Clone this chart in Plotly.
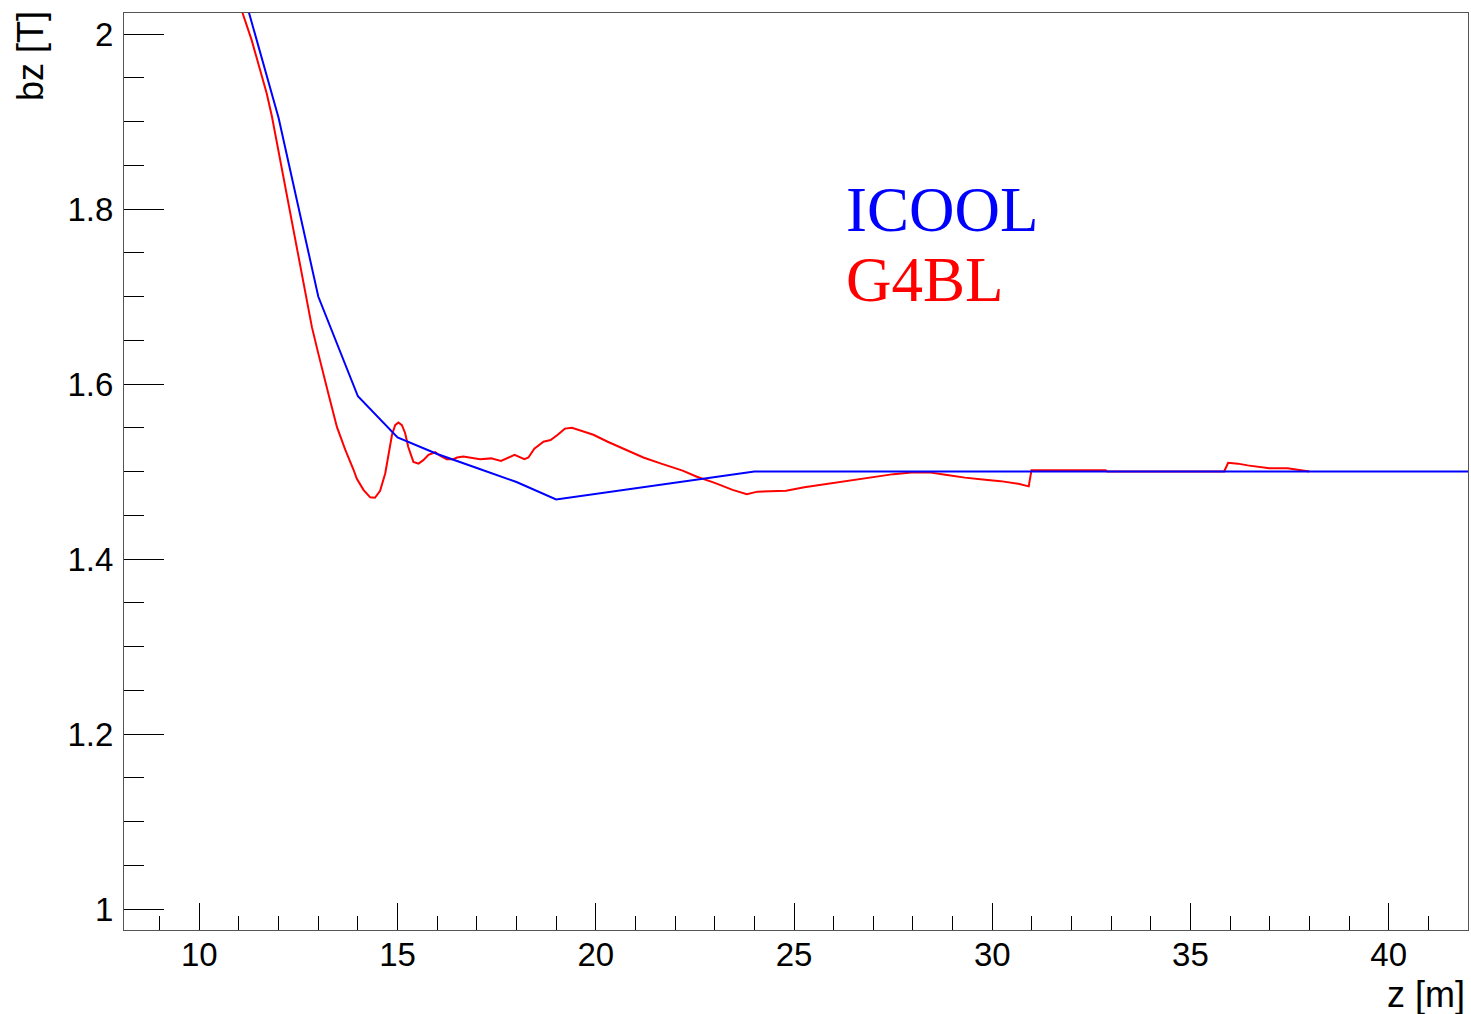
import plotly.graph_objects as go

# ICOOL (blue) field profile
icool_z = [11.0, 12.0, 13.0, 14.0, 15.0, 16.0, 17.0, 18.0, 19.0, 24.0, 42.0]
icool_bz = [2.065, 1.904, 1.700, 1.586, 1.539, 1.520, 1.504, 1.488, 1.468, 1.500, 1.500]

# G4BL (red) field profile
g4bl_z = [10.8, 11.09, 11.32, 11.53, 11.70, 11.83, 12.04, 12.16, 12.33, 12.54, 12.67,
          12.84, 13.00, 13.15, 13.26, 13.47, 13.68, 13.89, 13.97, 14.14, 14.31,
          14.43, 14.56, 14.69, 14.77, 14.86, 14.94, 15.02, 15.11, 15.19, 15.27,
          15.40, 15.53, 15.65, 15.78, 15.95, 16.07, 16.24, 16.41, 16.50, 16.66,
          16.91, 17.08, 17.36, 17.61, 17.95, 18.20, 18.30, 18.45, 18.68, 18.86,
          19.04, 19.22, 19.40, 19.53, 19.94, 20.30, 20.84, 21.20, 21.65, 22.19,
          22.55, 23.00, 23.45, 23.81, 24.08, 24.80, 25.26, 26.16, 27.06, 27.51,
          27.96, 28.41, 28.86, 29.31, 29.76, 30.21, 30.66, 30.92, 30.99, 32.86,
          32.90, 35.85, 35.95, 36.20, 36.44, 36.69, 36.99, 37.45, 37.95, 38.0]
g4bl_bz = [2.070, 2.024, 1.993, 1.959, 1.932, 1.906, 1.856, 1.825, 1.784, 1.738, 1.704,
           1.665, 1.635, 1.607, 1.588, 1.551, 1.525, 1.502, 1.492, 1.479, 1.4705,
           1.470, 1.478, 1.498, 1.517, 1.542, 1.553, 1.556, 1.553, 1.544, 1.528,
           1.511, 1.509, 1.513, 1.519, 1.522, 1.518, 1.514, 1.514, 1.516, 1.517,
           1.515, 1.514, 1.515, 1.512, 1.519, 1.514, 1.516, 1.526, 1.534, 1.536,
           1.542, 1.549, 1.550, 1.548, 1.542, 1.534, 1.523, 1.516, 1.509, 1.501,
           1.494, 1.487, 1.479, 1.474, 1.477, 1.478, 1.482, 1.488, 1.494, 1.497,
           1.499, 1.499, 1.496, 1.493, 1.491, 1.489, 1.486, 1.483, 1.5015, 1.5015,
           1.500, 1.500, 1.510, 1.509, 1.507, 1.5055, 1.5036, 1.5036, 1.501, 1.500]

x_range = [8.1, 42.0]
y_range = [0.976, 2.024]

fig = go.Figure()
fig.add_trace(go.Scatter(x=g4bl_z, y=g4bl_bz, mode="lines",
                         line=dict(color="#ff0000", width=2), name="G4BL",
                         showlegend=False))
fig.add_trace(go.Scatter(x=icool_z, y=icool_bz, mode="lines",
                         line=dict(color="#0000ff", width=2), name="ICOOL",
                         showlegend=False))

sans = "Liberation Sans, Arial, sans-serif"
serif = "Liberation Serif, Times New Roman, serif"
tickfont = dict(family=sans, size=33, color="black")

W, H = 1471, 1014
ML, MR, MT, MB = 124, 3, 13, 84
PW, PH = W - ML - MR, H - MT - MB

def px_x(p):  # page pixel -> paper x
    return (p - ML) / PW

def px_y(p):  # page pixel -> paper y
    return (H - MB - p) / PH

fig.update_layout(
    width=W, height=H,
    margin=dict(l=ML, r=MR, t=MT, b=MB, pad=0),
    paper_bgcolor="white", plot_bgcolor="white",
    font=dict(family=sans, color="black"),
    xaxis=dict(range=x_range, tick0=0, dtick=5, ticks="inside", ticklen=27,
               tickwidth=1, tickcolor="black", showgrid=False, zeroline=False,
               showline=True, linecolor="#555555", linewidth=1, mirror=True,
               tickfont=tickfont, ticklabelstandoff=-5,
               minor=dict(dtick=1, tick0=0, ticks="inside", ticklen=14,
                          tickwidth=1, tickcolor="black", showgrid=False)),
    yaxis=dict(range=y_range, ticks="inside", ticklen=40,
               tickwidth=1, tickcolor="black", showgrid=False, zeroline=False,
               showline=True, linecolor="#555555", linewidth=1, mirror=True,
               tickfont=tickfont, ticklabelstandoff=3,
               tickvals=[1.0, 1.2, 1.4, 1.6, 1.8, 2.0],
               ticktext=["1", "1.2", "1.4", "1.6", "1.8", "2"],
               minor=dict(dtick=0.05, tick0=0, ticks="inside", ticklen=20,
                          tickwidth=1, tickcolor="black", showgrid=False)),
    annotations=[
        dict(text="bz [T]", xref="paper", yref="paper",
             x=px_x(30), y=px_y(9), xanchor="center", yanchor="top",
             textangle=-90, showarrow=False,
             font=dict(family=sans, size=36, color="black")),
        dict(text="z [m]", xref="paper", yref="paper",
             x=px_x(1467), y=px_y(994), xanchor="right", yanchor="middle",
             showarrow=False,
             font=dict(family=sans, size=36, color="black")),
        dict(text="ICOOL", xref="paper", yref="paper",
             x=px_x(844), y=px_y(210), xanchor="left", yanchor="middle",
             showarrow=False,
             font=dict(family=serif, size=63, color="#0000ff")),
        dict(text="G4BL", xref="paper", yref="paper",
             x=px_x(844), y=px_y(280), xanchor="left", yanchor="middle",
             showarrow=False,
             font=dict(family=serif, size=63, color="#ff0000")),
    ],
)

fig.write_html(
    "out.html",
    config={"displayModeBar": False},
    post_script="document.body.style.margin='0';document.body.style.overflow='hidden';",
)
